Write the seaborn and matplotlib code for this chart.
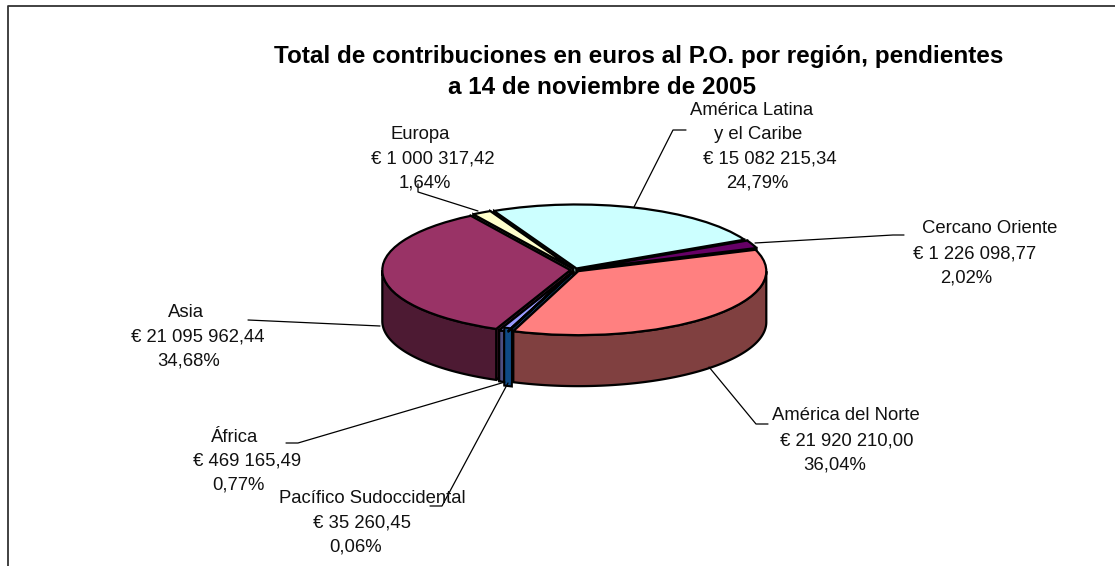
import numpy as np
import seaborn as sns
import matplotlib
matplotlib.use("Agg")
import matplotlib.pyplot as plt
from matplotlib.lines import Line2D

# slices in clockwise order, starting from the right of the pie
regions = ['América del Norte', 'Pacífico Sudoccidental', 'África', 'Asia',
           'Europa', 'América Latina y el Caribe', 'Cercano Oriente']
euros = [21920210.00, 35260.45, 469165.49, 21095962.44,
         1000317.42, 15082215.34, 1226098.77]
top_colors = ['#FF8080', '#0066CC', '#9999FF', '#993366',
              '#FFFFCC', '#CCFFFF', '#660066']
wall_colors = ['#804040', '#0F4A85', '#4D4D80', '#4D1A33',
               '#808066', '#668080', '#330033']

title_lines = [('Total de contribuciones en euros al P.O. por región, pendientes', 639, 57),
               ('a 14 de noviembre de 2005', 602, 87)]

# (text, x px, y px) per label line, Excel left them unevenly centred
label_lines = [
    ('Europa', 420, 133), ('€ 1 000 317,42', 433, 157), ('1,64%', 425, 181),
    ('América Latina', 752, 109), ('y el Caribe', 758, 133),
    ('€ 15 082 215,34', 770, 157), ('24,79%', 757, 181),
    ('Cercano Oriente', 990, 227), ('€ 1 226 098,77', 975, 252), ('2,02%', 966, 277),
    ('América del Norte', 846, 414), ('€ 21 920 210,00', 847, 439), ('36,04%', 835, 463),
    ('Asia', 186, 311), ('€ 21 095 962,44', 198, 335), ('34,68%', 189, 359),
    ('África', 235, 436), ('€ 469 165,49', 247, 460), ('0,77%', 238, 484),
    ('Pacífico Sudoccidental', 372, 497), ('€ 35 260,45', 362, 521), ('0,06%', 356, 545),
]
leaders = [
    [(418, 184), (418, 192), (478, 211)],
    [(686, 130), (673, 130), (634, 207)],
    [(904, 235), (893, 235), (755, 243)],
    [(768, 424), (756, 424), (709, 367)],
    [(248, 320), (380, 326)],
    [(286, 443), (298, 443), (505, 382)],
    [(430, 506), (442, 506), (508, 383)],
]

W, H = 1115, 566
cx, cy = 575, 270      # pie centre, px
rx, ry = 188, 64       # top ellipse radii, px
depth = 51 / ry        # wall height in y units

sns.set_theme(style="white")
plt.rcParams['font.family'] = ['Liberation Sans', 'DejaVu Sans']

fig = plt.figure(figsize=(W / 100, H / 100), dpi=100)
ax = fig.add_axes([0, 0, 1, 1])


def fx(x):
    return x / W


def fy(y):
    return 1 - y / H


wedges, _ = ax.pie(euros, colors=sns.color_palette(top_colors), startangle=19.5,
                   counterclock=False, explode=[0.025] * len(euros),
                   wedgeprops=dict(edgecolor='black', linewidth=1.6))
ax.set_aspect('auto')
ax.set_xlim(-cx / rx, (W - cx) / rx)
ax.set_ylim(-(H - cy) / ry, cy / ry)
ax.axis('off')


def paint_key(w):
    # back slice first, then down both sides, the one facing the viewer last
    s = -np.sin(np.radians(np.linspace(w.theta1, w.theta2, 200)))
    return 2 if s.max() > 0.99 else s.min()


order = np.argsort([paint_key(w) for w in wedges])
for z, i in enumerate(order):
    w = wedges[i]
    x0, y0 = w.center
    wall = wall_colors[i]
    ends = np.radians([w.theta1, w.theta2])
    for a in ends:
        ax.fill([x0, x0 + np.cos(a), x0 + np.cos(a), x0],
                [y0, y0 + np.sin(a), y0 + np.sin(a) - depth, y0 - depth],
                facecolor=wall, edgecolor='black', linewidth=1.6, zorder=2 * z + 1)
    t = np.radians(np.linspace(w.theta1, w.theta2, 200))
    t = t[np.sin(t) <= 0]
    if len(t) > 1:
        xs = x0 + np.cos(t)
        ys = y0 + np.sin(t)
        # the Pacífico slice is thinner than a pixel, keep its colour visible
        thin = w.theta2 - w.theta1 < 1
        ax.fill(np.r_[xs, xs[::-1]], np.r_[ys, ys[::-1] - depth],
                facecolor=wall, edgecolor='black', linewidth=6.5 if thin else 1.6,
                zorder=2 * z + 1)
        if thin:
            ax.fill(np.r_[xs, xs[::-1]], np.r_[ys, ys[::-1] - depth],
                    facecolor=wall, edgecolor=wall, linewidth=3.5, zorder=2 * z + 1)
    w.set_zorder(2 * z + 2)

for line in leaders:
    xs, ys = zip(*line)
    fig.add_artist(Line2D([fx(v) for v in xs], [fy(v) for v in ys],
                          color='black', linewidth=0.9))

for text, x, y in label_lines:
    fig.text(fx(x), fy(y + 1.5), text, ha='center', va='center', fontsize=13.3, color='#111111')

for text, x, y in title_lines:
    fig.text(fx(x), fy(y), text, ha='center', va='center', fontsize=17.5,
             fontweight='bold', color='black')

# chart frame, cut off at the right and bottom of the picture
fig.add_artist(Line2D([fx(8), fx(8), fx(1115)], [fy(566), fy(6), fy(6)],
                      color='#333333', linewidth=1.3))

fig.savefig('out.png', dpi=100)
